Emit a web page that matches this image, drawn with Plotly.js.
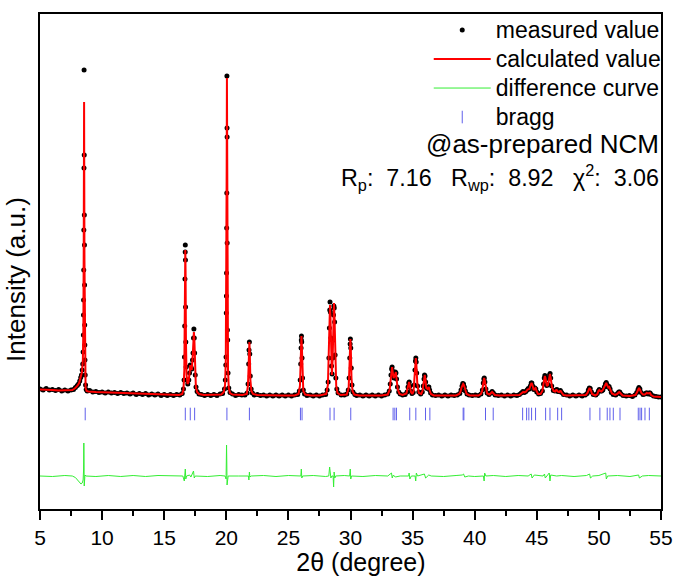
<!DOCTYPE html>
<html>
<head>
<meta charset="utf-8">
<script src="https://cdn.plot.ly/plotly-3.0.1.min.js"></script>
<style>html,body{margin:0;padding:0;background:#fff;}</style>
</head>
<body>
<div id="chart" style="width:675px;height:576px;"></div>
<script>
// ---- Calculated profile (2θ, intensity a.u.) ----
const calc2t = [5.0,5.5,6.0,6.5,7.0,7.4,7.6,
7.8,8.0,8.15,8.28,8.38,8.45,8.49,8.52,8.54,8.55,8.56,8.58,8.6,8.63,8.67,8.75,8.9,
9.5,10.5,11.5,12.5,13.5,14.5,15.5,16.2,16.45,
16.55,16.62,16.66,16.69,16.70,16.72,16.75,16.8,16.88,16.96,17.05,17.1,17.15,17.22,17.3,17.35,17.39,17.43,17.48,17.55,17.65,17.8,18.2,
19.0,19.6,19.8,
19.9,19.96,20.0,20.03,20.05,20.07,20.1,20.14,20.2,20.3,20.5,
21.3,21.65,
21.74,21.8,21.84,21.86,21.89,21.94,22.02,22.15,22.5,
23.5,24.5,25.5,25.82,
25.93,25.99,26.03,26.05,26.08,26.13,26.2,26.35,26.8,
27.5,28.05,
28.18,28.26,28.31,28.35,28.39,28.45,28.5,28.56,28.62,28.67,28.71,28.77,28.85,28.95,29.2,
29.7,
29.85,29.92,29.97,29.99,30.02,30.08,30.16,30.3,30.7,
31.5,32.5,33.0,
33.15,33.25,33.31,33.35,33.4,33.47,33.55,33.62,33.65,33.7,33.8,33.95,34.2,
34.5,34.6,34.68,34.72,34.77,34.87,34.98,
35.08,35.16,35.22,35.26,35.3,35.38,35.5,35.7,
35.8,35.9,35.95,35.98,36.03,36.1,36.2,36.27,36.3,36.36,36.48,36.7,
37.5,38.5,38.75,
38.85,38.95,39.02,39.07,39.13,39.22,39.35,39.6,
40.3,40.5,
40.6,40.68,40.74,40.76,40.8,40.9,41.0,
41.2,41.32,41.4,41.48,41.62,42.0,
43.0,43.6,
43.8,43.9,44.0,44.15,44.25,44.31,44.4,44.5,44.58,44.65,44.75,44.85,44.9,44.98,45.1,45.3,
45.45,45.55,45.62,45.65,45.7,45.8,45.9,46.0,46.06,46.12,46.22,46.35,46.48,46.56,46.6,46.68,46.8,46.88,46.92,47.0,47.15,47.4,
48.2,48.95,
49.08,49.17,49.25,49.33,49.45,49.7,
49.88,49.96,50.03,50.1,50.2,50.32,50.45,50.55,50.59,50.66,50.76,50.83,50.9,51.05,51.3,
51.48,51.58,51.64,51.72,51.9,
52.5,52.95,
53.08,53.17,53.23,53.3,53.42,53.55,53.7,53.8,53.85,53.95,54.05,54.11,54.2,54.4,55.0];
const calcI = [10.5,10.5,10,9.5,9.5,9.5,10,
11.5,14,17,22,28,40,70,150,240,298,240,140,60,22,12,9,8.5,
8,7.5,7,6.5,6,5.5,5,5,6,
10,30,80,140,150,130,60,25,16,18,28,35,32,30,45,62,68,60,30,13,8,6,5,
5,5.5,8,
15,40,110,230,322,230,100,30,12,7,5.5,
5,6,
14,35,54,58,48,20,9,6,5,
4.5,4.5,4.5,6,
14,38,60,64,55,22,9,5.5,4.5,
4.5,6,
15,45,85,95,82,40,25,40,85,97,84,40,14,7,5,
5.5,
12,35,58,61,54,22,9,5.5,4.5,
4.5,4.5,5.5,
10,22,31,33,28,22,24,28,28,22,11,6,5,
6.5,11,17,18,15,8,6,
9,24,39,42,36,16,7,6,
9,18,24,25,21,12,11,13,13,10,6,4.5,
4.5,4.5,6,
8,13,16,16,15,10,6,4.5,
4.5,6,
9,16,21,22,20,11,6.5,
5.5,7,8,7,5,4.5,
4.5,5,
7,8,7.5,8.5,10.5,11,11,15,17,15,10,11.5,12,9,6,6,
9,17,23,24,22,14,15,24,26,22,13,9,8.5,10,10,8.5,8,9,9,7.5,5,4.5,
4.5,5,
7,10.5,12,10.5,6,4.5,
6,9,10,9,8.5,10,13,16.5,17,15,12.5,13,11,6.5,5,
6,7.5,8,7,4.5,
4,5,
8,11,12,10.5,7,5.5,5.5,6.5,7,6.5,7,7,5,3.5,3];

// ---- Measured points (2θ, intensity a.u.) ----
const meas2t = [5.0,5.25,5.5,5.75,6.0,6.25,6.5,6.75,7.0,7.25,7.5,7.7,7.85,8.0,8.1,8.2,8.28,8.34,8.4,8.44,8.47,8.49,8.5,8.51,8.52,8.53,8.54,8.55,8.56,8.57,8.58,8.59,8.6,8.61,8.62,8.64,8.67,8.72,8.8,
9.0,9.25,9.5,9.75,10.0,10.25,10.5,10.75,11.0,11.25,11.5,11.75,12.0,12.25,12.5,12.75,13.0,13.25,13.5,13.75,14.0,14.25,14.5,14.75,15.0,15.25,15.5,15.75,16.0,16.25,16.45,
16.55,16.6,16.63,16.65,16.67,16.69,16.70,16.71,16.72,16.74,16.77,16.82,16.9,16.98,17.04,17.1,17.16,17.22,17.28,17.32,17.36,17.39,17.42,17.45,17.5,17.56,17.65,17.8,
18.0,18.25,18.5,18.75,19.0,19.25,19.5,19.7,
19.85,19.92,19.96,19.98,20.0,20.01,20.02,20.03,20.04,20.05,20.06,20.065,20.07,20.09,20.11,20.14,20.2,20.3,
20.5,20.75,21.0,21.25,21.5,21.68,21.75,21.8,21.83,21.86,21.89,21.93,22.0,22.1,
22.25,22.5,22.75,23.0,23.25,23.5,23.75,24.0,24.25,24.5,24.75,25.0,25.25,25.5,25.75,
25.88,25.95,25.99,26.02,26.04,26.05,26.07,26.1,26.14,26.2,26.3,
26.5,26.75,27.0,27.25,27.5,27.75,28.0,
28.12,28.2,28.26,28.3,28.33,28.35,28.38,28.42,28.47,28.52,28.57,28.6,28.63,28.66,28.69,28.72,28.76,28.82,28.9,29.0,
29.25,29.5,29.7,29.82,29.89,29.94,29.97,29.99,30.02,30.06,30.12,30.2,30.35,
30.5,30.75,31.0,31.25,31.5,31.75,32.0,32.25,32.5,32.75,33.0,
33.12,33.2,33.26,33.31,33.35,33.39,33.44,33.5,33.56,33.61,33.66,33.71,33.78,33.88,34.0,34.2,
34.4,34.55,34.63,34.69,34.73,34.78,34.85,34.95,35.05,35.13,35.19,35.23,35.26,35.29,35.33,35.4,35.5,35.65,
35.78,35.86,35.92,35.96,36.0,36.05,36.12,36.2,36.26,36.31,36.37,36.45,36.6,
36.85,37.1,37.35,37.6,37.85,38.1,38.35,38.6,38.8,38.9,38.98,39.04,39.1,39.17,39.25,39.38,39.55,
39.8,40.05,40.3,40.5,40.62,40.69,40.74,40.77,40.82,40.9,41.0,41.15,41.3,41.4,41.5,41.65,
41.9,42.15,42.4,42.65,42.9,43.15,43.4,43.6,43.75,43.88,44.0,44.12,44.22,44.31,44.4,44.48,44.55,44.6,44.67,44.76,44.85,44.92,45.0,45.15,
45.3,45.45,45.54,45.6,45.65,45.71,45.8,45.9,45.98,46.03,46.07,46.12,46.2,46.33,46.46,46.55,46.62,46.7,46.8,46.9,47.0,47.15,
47.4,47.65,47.9,48.15,48.4,48.65,48.9,49.05,49.15,49.23,49.3,49.4,49.55,
49.75,49.87,49.96,50.03,50.12,50.22,50.32,50.44,50.52,50.59,50.65,50.74,50.82,50.9,51.0,51.15,
51.35,51.5,51.6,51.68,51.78,51.95,52.2,52.45,52.7,52.9,53.05,53.15,53.22,53.3,53.4,53.55,
53.7,53.8,53.88,53.97,54.05,54.12,54.2,54.4,54.6,54.8,55.0];
const measI = [11,10,11.5,10,10.5,9.5,10.5,9,10,9,10,10.5,12.5,14.5,16,19,22.5,25,30,36,48,65,85,100,130,170,232,330,245,185,155,115,75,55,40,25,15,10.5,9,
9.5,8,8.5,7.5,8,7,8,7,7.5,6.5,7.5,6.5,7,6,7,5.5,6.5,5.5,6.5,5,6,5,6,4.5,5.5,4.5,5.5,4.5,5.5,5,6.5,
11,20,43,74,121,148,155,140,93,58,33,20,16,20,27,35,33,31,40,47,62,71,62,47,25,13,8.5,6,
5.5,4.5,5.5,4.5,5.5,4.5,6,6.5,
11,20,35,43,87,104,127,172,207,324,272,263,157,70,60,27,12,7.5,
6,4.5,5.5,5,5,7,16,36,50,58,46,24,11,7,
5,5.5,4.5,5,4,5,4,5,4,5,4,5,4,5,5.5,
9,20,36,52,60,64,58,42,22,10,6,
4.5,5,4,5,4,5,5.5,
10,18,42,72,90,98,88,62,34,26,42,60,85,94,92,78,45,22,11,7,
5,5,6,10,22,42,56,61,52,32,15,8,5.5,
4.5,5,4,5,4,5,4,5,4,5,6,
9,16,25,31,33,29,24,22,25,28,27,21,13,8,6,5,
5.5,8,13,17,18,14,9,6.5,7.5,15,30,39,42,38,27,14,8,6,
8,14,21,25,24,18,12,11.5,13,13,10,7,5,
4.5,5,4,5,4,5,4.5,5,6.5,10,14,16.5,16,13,9,6,5,
4.5,5,4.5,6,10,17,21,22,18,11,7,5.5,7,8.5,7,5,
4.5,5,4,5,4,5,4.5,5.5,7,8.5,7.5,8.5,10,11.5,11,14,17,17,14,10.5,12,11,8,6,
6.5,9,16,22,24.5,21,14.5,15.5,22,25,26.5,22,14,9.5,9,10,10.5,8.5,8.5,9.5,7.5,5.5,
5,4,5,4,5,4,5,6.5,10,12,11.5,8,5.5,
5,6.5,9,10.5,9,9,10,13,16,17.5,15.5,13,13.5,11,7.5,5.5,
5,6.5,8,8,6,4.5,4,4.5,3.5,5,7.5,10.5,12.5,11,7.5,5.5,
6,7,7,6,7,7,5.5,4,3.5,3,3];

// ---- Difference curve (2θ, intensity a.u., offset) ----
const diff2t = [5.0,6.0,7.0,7.6,7.85,8.0,8.15,8.3,8.4,8.47,8.51,8.53,8.545,8.56,8.58,8.62,8.7,9.5,10.5,11.5,12.5,13.5,14.5,15.5,
16.5,16.62,16.66,16.7,16.74,16.8,17.05,17.15,17.36,17.42,17.5,18.5,19.5,19.9,19.98,20.02,20.04,20.06,20.09,20.15,
21.0,21.78,21.82,21.86,21.9,22.0,23.0,24.0,25.0,25.9,26.0,26.04,26.08,26.15,27.0,28.0,28.25,28.32,28.37,28.42,28.5,
28.6,28.64,28.68,28.74,28.8,29.5,29.93,29.98,30.02,30.08,31.0,32.0,33.0,33.3,33.36,33.45,33.6,34.0,34.68,34.72,34.78,34.9,
35.2,35.25,35.3,35.4,35.95,36.05,36.3,36.5,37.5,38.5,39.0,39.1,39.2,39.5,40.0,40.7,40.76,40.8,40.9,41.5,42.5,43.5,
44.3,44.55,44.62,44.8,45.5,45.62,45.68,46.0,46.06,46.12,46.6,47.0,48.0,49.0,49.25,49.32,49.5,50.0,50.55,50.6,50.7,
51.5,52.5,53.2,53.26,53.5,54.0,55.0];
const diffI = [-76,-76.5,-75.5,-76,-77.5,-80,-82,-84,-83,-80,-70,-43,-60,-86,-80,-75,-76,-76.5,-75.5,-76.5,-75.5,-76.5,-75.5,-76,
-76,-81,-74,-69,-79,-76,-75,-77,-71,-78,-76,-76.5,-75.5,-76,-79,-45,-62,-85,-78,-76,
-76,-76,-80,-72,-77,-76,-75.5,-76.5,-75.5,-76,-76,-69,-78,-76,-75.5,-76.5,-76,-67,-73,-78,-76,
-76,-87,-72,-78,-76,-75.5,-76,-69,-79,-76,-76.5,-75.5,-76,-73,-78,-75,-77,-76,-76,-73,-79,-76,
-76,-81,-73,-76,-74,-78,-75,-76,-76.5,-75.5,-75,-74,-77,-76,-76.5,-76,-81,-73,-76,-75.5,-76.5,-75.5,
-76,-74,-78,-75,-76,-74,-78,-73,-81,-75,-76,-75.5,-76.5,-75.5,-74,-78,-76,-75.5,-73,-79,-76,
-75.5,-76.5,-75,-78,-76,-75.5,-76];

// ---- Bragg reflection positions (2θ) ----
const braggPos = [8.64,16.70,17.10,17.45,20.05,21.86,25.97,26.10,28.35,28.68,30.02,33.43,33.57,33.70,34.77,35.26,36.04,36.39,
39.07,39.13,40.87,41.49,43.86,44.18,44.36,44.58,44.90,45.71,46.06,46.68,47.0,49.28,50.08,50.67,50.89,51.16,51.70,
53.17,53.31,53.44,53.71,54.06];
const braggLevel = -14;

const xTicks = [5,10,15,20,25,30,35,40,45,50,55];

const FONT = 'Liberation Sans, Arial, Helvetica, sans-serif';
const leg = t => '<span style="font-size:23px">' + t + '</span>';

const traces = [
  {x: meas2t, y: measI, type: 'scatter', mode: 'markers', name: leg('measured value'), legendrank: 1,
   marker: {symbol: 'circle', size: 5, color: '#000'}},
  {x: calc2t, y: calcI, type: 'scatter', mode: 'lines', name: leg('calculated value'), legendrank: 2,
   line: {color: '#ff0000', width: 2}},
  {x: diff2t, y: diffI, type: 'scatter', mode: 'lines', name: leg('difference curve'), legendrank: 3,
   line: {color: '#33ee33', width: 1}},
  {x: braggPos, y: braggPos.map(() => braggLevel), type: 'scatter', mode: 'markers', name: leg('bragg'), legendrank: 4,
   marker: {symbol: 'line-ns-open', size: 9, color: 'rgb(95,95,235)', line: {color: 'rgb(95,95,235)', width: 1}}}
];

const layout = {
  width: 675, height: 576,
  margin: {l: 40, r: 14, t: 14, b: 67, autoexpand: false},
  paper_bgcolor: '#fff', plot_bgcolor: '#fff',
  font: {family: FONT, color: '#000'},
  showlegend: true,
  xaxis: {
    range: [5, 55], tickvals: xTicks, ticktext: xTicks.map(String),
    ticks: 'outside', ticklen: 9, tickwidth: 2, tickcolor: '#000',
    minor: {tickvals: [7.5,12.5,17.5,22.5,27.5,32.5,37.5,42.5,47.5,52.5], ticks: 'outside', ticklen: 5, tickwidth: 2, tickcolor: '#000', showgrid: false},
    showline: true, linewidth: 2, linecolor: '#000', mirror: true,
    showgrid: false, zeroline: false,
    tickfont: {size: 21, family: FONT, color: '#000'},
    title: {text: '<span>\u00a0\u00a0\u00a0</span>2θ (degree)', font: {size: 25, family: FONT, color: '#000'}, standoff: 4}
  },
  yaxis: {
    range: [-109, 386], showticklabels: false, ticks: '',
    showline: true, linewidth: 2, linecolor: '#000', mirror: true,
    showgrid: false, zeroline: false,
    title: {text: 'Intensity (a.u.)<span>\u00a0\u00a0\u00a0\u00a0\u00a0</span>', font: {size: 26, family: FONT, color: '#000'}, standoff: 5}
  },
  legend: {
    x: 0.626, xanchor: 'left', y: 1.007, yanchor: 'top',
    bgcolor: 'rgba(0,0,0,0)', borderwidth: 0,
    font: {size: 20, family: FONT, color: '#000'},
    itemwidth: 57, tracegroupgap: 0
  },
  annotations: [
    {xref: 'paper', yref: 'paper', x: 1, y: 0.737, xanchor: 'right', yanchor: 'middle', showarrow: false,
     text: '@as-prepared NCM', font: {size: 26, family: FONT, color: '#000'}},
    {xref: 'paper', yref: 'paper', x: 1, y: 0.669, xanchor: 'right', yanchor: 'middle', showarrow: false,
     text: 'R<sub>p</sub>:\u00a0\u00a07.16\u00a0\u00a0\u00a0R<sub>wp</sub>:\u00a0\u00a08.92\u00a0\u00a0\u00a0χ<sup>2</sup>:\u00a0\u00a03.06',
     font: {size: 23.3, family: FONT, color: '#000'}}
  ]
};

Plotly.newPlot('chart', traces, layout, {staticPlot: true, displayModeBar: false});
</script>
</body>
</html>
